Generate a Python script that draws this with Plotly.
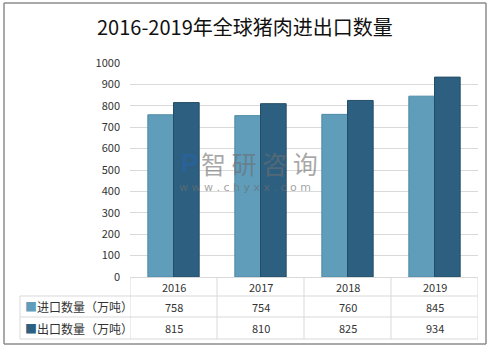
import plotly.graph_objects as go

years = ["2016", "2017", "2018", "2019"]
import_vals = [758, 754, 760, 845]
export_vals = [815, 810, 825, 934]
series_names = ["进口数量（万吨）", "出口数量（万吨）"]
title_text = "2016-2019年全球猪肉进出口数量"
y_ticks = [0, 100, 200, 300, 400, 500, 600, 700, 800, 900, 1000]

IMP_COLOR = "#5f9dba"
EXP_COLOR = "#2d6080"
W, H = 491, 349
L, R, T, B = 130, 13, 63, 72  # plot area pixels
PW, PH = W - L - R, H - T - B


def px(x):
    return (x - L) / PW


def py(y):
    return (H - B - y) / PH


fig = go.Figure()
fig.add_trace(go.Bar(x=years, y=import_vals, name=series_names[0],
                     marker=dict(color=IMP_COLOR, line=dict(color="#4d8aa6", width=1))))
fig.add_trace(go.Bar(x=years, y=export_vals, name=series_names[1],
                     marker=dict(color=EXP_COLOR, line=dict(color="#244d66", width=1))))

shapes = []
# outer border
border = dict(color="#8c8c8c", width=1.5)
for (xa, ya, xb, yb) in [(4, 3, 486, 3), (4, 344, 486, 344), (4, 3, 4, 344), (486, 3, 486, 344)]:
    shapes.append(dict(type="line", xref="paper", yref="paper", x0=px(xa), x1=px(xb), y0=py(ya), y1=py(yb),
                       line=border))
grid = "#d9d9d9"
# table horizontal lines
for yy in [296, 317, 339]:
    shapes.append(dict(type="line", xref="paper", yref="paper", x0=px(20), x1=1, y0=py(yy), y1=py(yy),
                       line=dict(color=grid, width=1)))
# left edge of row labels
shapes.append(dict(type="line", xref="paper", yref="paper", x0=px(20), x1=px(20), y0=py(296), y1=py(339),
                   line=dict(color=grid, width=1)))
# vertical separators of the table
for i in range(len(years) + 1):
    shapes.append(dict(type="line", xref="x", yref="paper", x0=i - 0.5, x1=i - 0.5, y0=0, y1=py(339),
                       line=dict(color=grid, width=1)))

annotations = []
font_tbl = dict(family="Noto Sans CJK SC", size=11, color="#333333")
for i, yr in enumerate(years):
    annotations.append(dict(x=i, y=py(286.5), xref="x", yref="paper", text=yr, showarrow=False,
                            xanchor="center", yanchor="middle", font=font_tbl))
    annotations.append(dict(x=i, y=py(306.5), xref="x", yref="paper", text=str(import_vals[i]),
                            showarrow=False, xanchor="center", yanchor="middle", font=font_tbl))
    annotations.append(dict(x=i, y=py(328), xref="x", yref="paper", text=str(export_vals[i]),
                            showarrow=False, xanchor="center", yanchor="middle", font=font_tbl))
for name, col, yy in [(series_names[0], IMP_COLOR, 306.5), (series_names[1], EXP_COLOR, 328)]:
    annotations.append(dict(x=px(23), y=py(yy), xref="paper", yref="paper", xanchor="left", yanchor="middle",
                            text=f'<span style="color:{col}">■</span>{name}', showarrow=False,
                            font=dict(family="Noto Sans CJK SC", size=12, color="#333333")))
# watermark
annotations.append(dict(x=px(189), y=py(163), xref="paper", yref="paper", text="<b>P</b>", showarrow=False,
                        xanchor="center", yanchor="middle",
                        font=dict(family="Liberation Sans", size=26, color="rgba(40,100,170,0.6)")))
annotations.append(dict(x=px(259), y=py(163), xref="paper", yref="paper", text="智 研 咨 询", showarrow=False,
                        xanchor="center", yanchor="middle",
                        font=dict(family="Noto Sans CJK SC", size=25, color="rgba(110,110,110,0.6)")))
annotations.append(dict(x=px(245), y=py(187), xref="paper", yref="paper", text="w w w . c h y x x . c o m",
                        showarrow=False, xanchor="center", yanchor="middle",
                        font=dict(family="DejaVu Sans", size=11, color="rgba(110,110,110,0.65)")))
# title
annotations.append(dict(x=px(245), y=py(27), xref="paper", yref="paper", text=title_text, showarrow=False,
                        xanchor="center", yanchor="middle",
                        font=dict(family="Noto Sans CJK SC", size=20, color="#111111")))

fig.update_layout(
    width=W, height=H,
    margin=dict(l=L, r=R, t=T, b=B),
    paper_bgcolor="white", plot_bgcolor="white",
    showlegend=False,
    barmode="group", bargap=0.41, bargroupgap=0,
    shapes=shapes, annotations=annotations,
    xaxis=dict(type="category", showticklabels=False, showgrid=False, range=[-0.5, 3.5],
               showline=True, linecolor=grid, linewidth=1, zeroline=False),
    yaxis=dict(range=[0, 1000], tickvals=y_ticks, showgrid=True, gridcolor=grid, gridwidth=1,
               zeroline=False, showline=False, ticklabelstandoff=9,
               tickfont=dict(family="Noto Sans CJK SC", size=11, color="#333333")),
)
fig.write_html("out.html")
